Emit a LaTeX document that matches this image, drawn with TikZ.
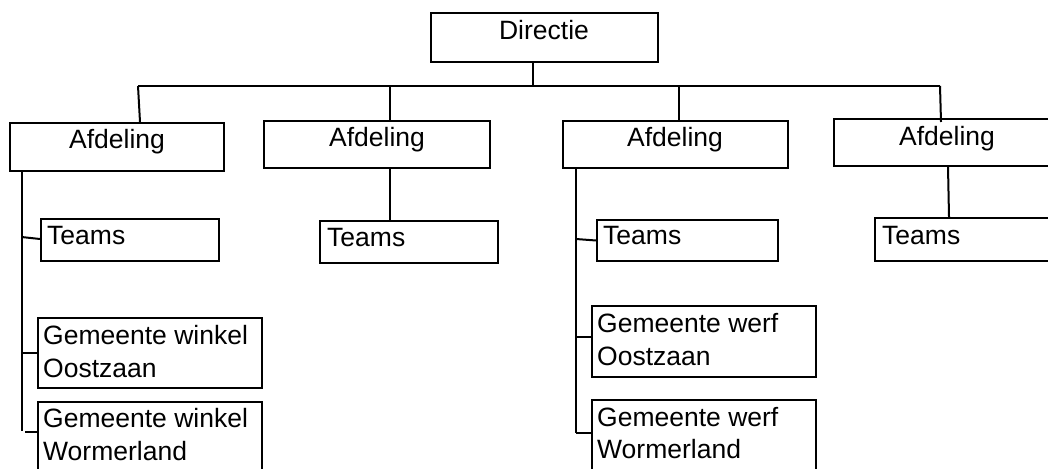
\documentclass[tikz,border=0pt]{standalone}
\usepackage{fontspec}
\setmainfont{Liberation Sans}
\begin{document}
\begin{tikzpicture}[x=1pt,y=-1pt,
  box/.style={draw=black,line width=2pt,rectangle,inner sep=0pt,fill=white},
  txt/.style={inner sep=0pt,font=\fontsize{26.5}{33}\selectfont,text=black,align=left},
  conn/.style={draw=black,line width=2pt}]
\clip (0,0) rectangle (1048,468);
\fill[white] (0,0) rectangle (1048,468);
% connector coordinates
\coordinate (dstem) at (533,86);
\coordinate (barL) at (138,86);
\coordinate (barR) at (940,86);
\coordinate (s2) at (390,86);
\coordinate (s3) at (679,86);
\coordinate (v1) at (21.5,0);
\coordinate (v3) at (576,0);
\coordinate (v2) at (390,0);
\coordinate (v4) at (948.5,0);
% boxes
\node[box,minimum width=227pt,minimum height=49pt] (dir) at (544.5,37.5) {};
\node[box,minimum width=214pt,minimum height=48pt] (a1) at (117,147) {};
\node[box,minimum width=226pt,minimum height=47pt] (a2) at (377,144.5) {};
\node[box,minimum width=225pt,minimum height=47pt] (a3) at (675.5,144.5) {};
\node[box,minimum width=226pt,minimum height=47pt] (a4) at (947,142.5) {};
\node[box,minimum width=178pt,minimum height=42pt] (t1) at (130,240) {};
\node[box,minimum width=178pt,minimum height=42pt] (t2) at (409,242) {};
\node[box,minimum width=181pt,minimum height=41pt] (t3) at (687.5,240.5) {};
\node[box,minimum width=179pt,minimum height=43pt] (t4) at (964.5,239.5) {};
\node[box,minimum width=224pt,minimum height=70pt] (w1) at (150,353) {};
\node[box,minimum width=224pt,minimum height=70pt] (w2) at (150,437) {};
\node[box,minimum width=224pt,minimum height=71pt] (f1) at (704,341.5) {};
\node[box,minimum width=224pt,minimum height=71pt] (f2) at (704,435.5) {};
% texts
\node[txt,anchor=base] (dirT) at (544,40) {Directie};
\node[txt,anchor=base] (a1T) at (117,148) {Afdeling};
\node[txt,anchor=base] (a2T) at (377,146) {Afdeling};
\node[txt,anchor=base] (a3T) at (675,146) {Afdeling};
\node[txt,anchor=base] (a4T) at (947,145) {Afdeling};
\node[txt,anchor=base west] (t1T) at (47,244) {Teams};
\node[txt,anchor=base west] (t2T) at (327,246) {Teams};
\node[txt,anchor=base west] (t3T) at (603,244) {Teams};
\node[txt,anchor=base west] (t4T) at (882,244) {Teams};
\node[txt,anchor=base west] (w1a) at (43,344) {Gemeente winkel};
\node[txt,anchor=base west] (w1b) at (43,377) {Oostzaan};
\node[txt,anchor=base west] (w2a) at (43,427) {Gemeente winkel};
\node[txt,anchor=base west] (w2b) at (43,460) {Wormerland};
\node[txt,anchor=base west] (f1a) at (597,332) {Gemeente werf};
\node[txt,anchor=base west] (f1b) at (597,365) {Oostzaan};
\node[txt,anchor=base west] (f2a) at (597,426) {Gemeente werf};
\node[txt,anchor=base west] (f2b) at (597,458) {Wormerland};
% connectors top
\draw[conn] (dir.south -| dstem) -- (dstem);
\draw[conn] (barL) -- (barR);
\draw[conn] (barL) -- ([xshift=2pt]a1.north -| barL);
\draw[conn] (s2) -- (a2.north -| s2);
\draw[conn] (s3) -- (a3.north -| s3);
\draw[conn] (barR) -- ([xshift=1pt,yshift=-4pt]a4.north -| barR);
% branch 1
\draw[conn] (a1.south -| v1) -- ([yshift=6pt]w2.west -| v1);
\draw[conn] ([yshift=3pt]t1.west -| v1) -- ([yshift=1pt]t1.west);
\draw[conn] (w1.west -| v1) -- (w1.west);
\draw[conn] ([xshift=3.5pt,yshift=5pt]w2.west -| v1) -- ([yshift=5pt]w2.west);
% branch 2
\draw[conn] (a2.south -| v2) -- (t2.north -| v2);
% branch 3
\draw[conn] (a3.south -| v3) -- ([yshift=2.5pt]f2.west -| v3);
\draw[conn] ([yshift=1.5pt]t3.west -| v3) -- (t3.west);
\draw[conn] ([yshift=4.5pt]f1.west -| v3) -- ([yshift=4.5pt]f1.west);
\draw[conn] ([yshift=2.5pt]f2.west -| v3) -- ([yshift=2.5pt]f2.west);
% branch 4
\draw[conn] ([xshift=-0.5pt]a4.south -| v4) -- ([xshift=0.5pt]t4.north -| v4);
\end{tikzpicture}
\end{document}
